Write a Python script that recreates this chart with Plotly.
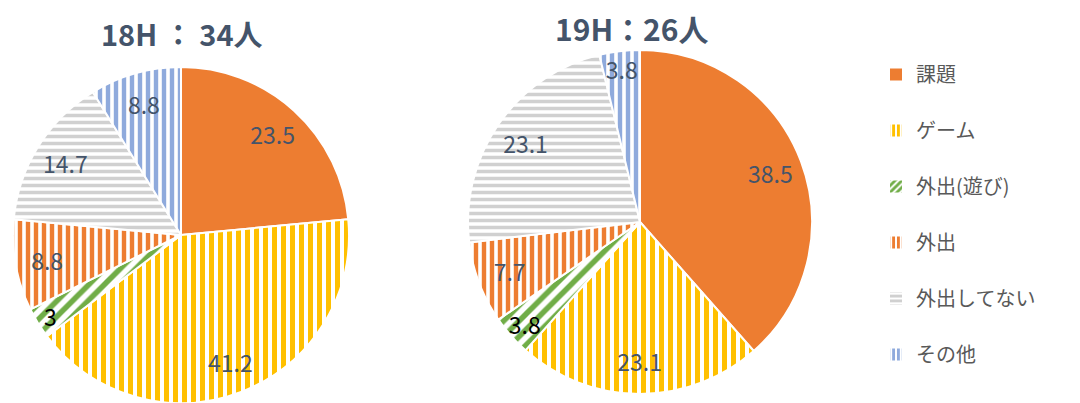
import plotly.graph_objects as go

categories = ["課題", "ゲーム", "外出(遊び)", "外出", "外出してない", "その他"]
values_18h = [23.5, 41.2, 3, 8.8, 14.7, 8.8]
values_19h = [38.5, 23.1, 3.8, 7.7, 23.1, 3.8]
title_18h = "18H ： 34人"
title_19h = "19H：26人"

colors = ["#ED7D31", "#FFC000", "#70AD47", "#ED7D31", "#D0D0D0", "#8FAADC"]
shapes = ["", "|", "/", "|", "-", "|"]
sizes = [8, 9, 11, 8, 7, 8]
solid = [0.3, 0.55, 0.5, 0.55, 0.5, 0.55]
label_colors = ["#44546A", "#44546A", "#000000", "#44546A", "#44546A", "#44546A"]

FONT = "Noto Sans CJK JP"
W, H = 1080, 403

pattern = dict(shape=shapes, fgcolor=colors, bgcolor="white", size=sizes,
               solidity=solid, fillmode="replace")


def dom(x0, x1, ytop, ybot):
    return dict(x=[x0 / W, x1 / W], y=[1 - ybot / H, 1 - ytop / H])


def pie(vals, d):
    return go.Pie(
        labels=categories, values=vals, sort=False, direction="clockwise",
        rotation=0, showlegend=False,
        marker=dict(colors=colors, pattern=pattern,
                    line=dict(color="white", width=2)),
        textinfo="none", hoverinfo="label+value", domain=d,
    )


def ring(vals, d):
    # transparent ring carrying the value labels near the rim
    return go.Pie(
        labels=categories, values=vals, sort=False, direction="clockwise",
        rotation=0, showlegend=False, hole=0.62,
        marker=dict(colors=["rgba(0,0,0,0)"] * len(vals), line=dict(width=0)),
        texttemplate="%{value}", textposition="inside",
        insidetextorientation="horizontal",
        textfont=dict(family=FONT, size=23, color=label_colors),
        hoverinfo="skip", domain=d,
    )


d18 = dom(13, 349, 67, 403)
d19 = dom(468, 812, 50, 394)

fig = go.Figure()
fig.add_trace(pie(values_18h, d18))
fig.add_trace(pie(values_19h, d19))
fig.add_trace(ring(values_18h, d18))
fig.add_trace(ring(values_19h, d19))

for i, c in enumerate(categories):
    fig.add_trace(go.Bar(
        x=[None], y=[None], name=c, legendgroup=c, showlegend=True,
        marker=dict(color=colors[i],
                    pattern=dict(shape=shapes[i], fgcolor=colors[i], bgcolor="white",
                                 size=6, solidity=0.6, fillmode="replace"),
                    line=dict(width=0)),
    ))

fig.update_layout(
    width=W, height=H, margin=dict(l=0, r=0, t=0, b=0),
    paper_bgcolor="white", plot_bgcolor="white",
    xaxis=dict(visible=False), yaxis=dict(visible=False),
    uniformtext=dict(minsize=23, mode="show"),
    legend=dict(x=876 / W, y=1 - 55 / H, xanchor="left", yanchor="top",
                font=dict(family=FONT, size=20, color="#595959"),
                tracegroupgap=27, itemwidth=30, bgcolor="rgba(0,0,0,0)"),
    annotations=[
        dict(text=f"<b>{title_18h}</b>", x=182 / W, y=1 - 33 / H, xref="paper", yref="paper",
             xanchor="center", yanchor="middle", showarrow=False,
             font=dict(family=FONT, size=29, color="#44546A")),
        dict(text=f"<b>{title_19h}</b>", x=632 / W, y=1 - 28 / H, xref="paper", yref="paper",
             xanchor="center", yanchor="middle", showarrow=False,
             font=dict(family=FONT, size=30, color="#44546A")),
    ],
)

fig.write_html("out.html", config={"displayModeBar": False},
               post_script="document.body.style.margin='0px';")
